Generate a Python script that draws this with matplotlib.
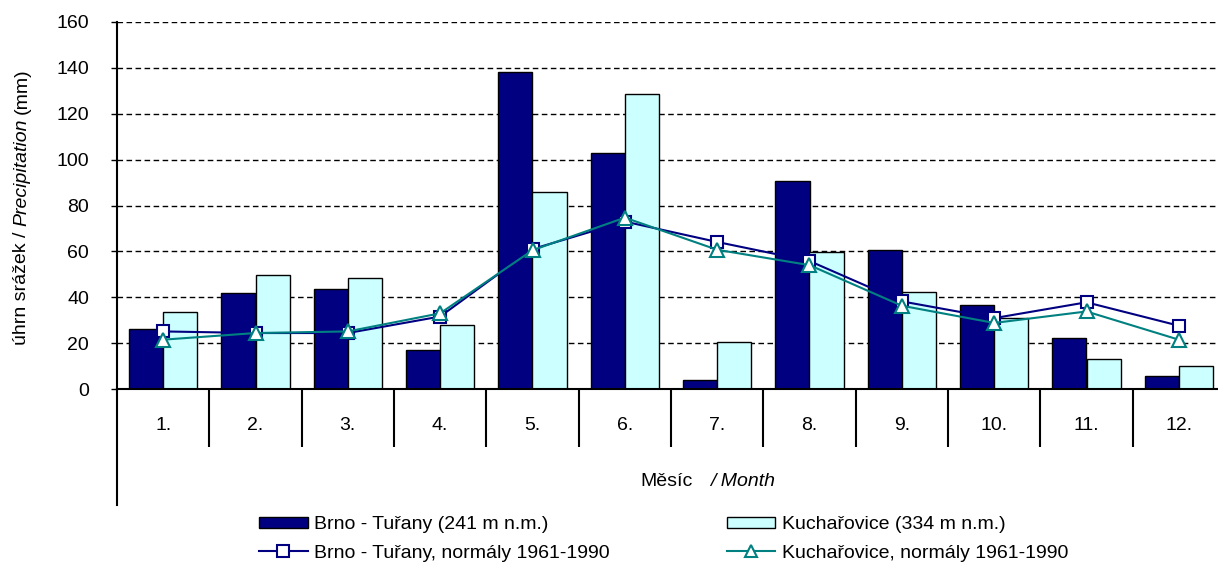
import numpy as np
import matplotlib
matplotlib.use("Agg")
import matplotlib.pyplot as plt
from matplotlib.patches import Patch
from matplotlib.lines import Line2D

plt.rcParams['font.family'] = ['Liberation Sans', 'DejaVu Sans']

# mesicni srazky (mm)
mesice = ['1.', '2.', '3.', '4.', '5.', '6.', '7.', '8.', '9.', '10.', '11.', '12.']
brno = [26.3, 41.8, 43.6, 17.1, 138.4, 103.1, 4.1, 90.8, 60.7, 36.7, 22.2, 5.8]
kuch = [33.7, 49.8, 48.4, 27.7, 85.9, 128.7, 20.5, 59.7, 42.5, 30.9, 13.1, 9.9]
brno_norm = [25.1, 24.4, 24.4, 31.6, 61.0, 73.0, 64.1, 55.8, 38.2, 30.9, 37.8, 27.6]
kuch_norm = [21.5, 24.4, 25.1, 33.0, 60.5, 74.7, 60.7, 54.0, 36.3, 28.8, 33.8, 21.5]

c_brno = '#000080'
c_kuch = '#CCFFFF'
c_kuch_line = '#008080'

W, H = 1218, 566
fig = plt.figure(figsize=(W / 100, H / 100), dpi=100)
ax = fig.add_axes([117 / W, 1 - 389 / H, (1225 - 117) / W, (389 - 22) / H])

x = np.arange(len(mesice))
sirka = 0.37
ax.bar(x - sirka / 2, brno, sirka, color=c_brno, edgecolor='black', lw=1, zorder=2)
ax.bar(x + sirka / 2, kuch, sirka, color=c_kuch, edgecolor='black', lw=1, zorder=2)
ax.plot(x, brno_norm, color=c_brno, lw=1.5, marker='s', ms=9, mfc='white',
        mec=c_brno, mew=1.5, zorder=3)
ax.plot(x, kuch_norm, color=c_kuch_line, lw=1.5, marker='^', ms=10, mfc='white',
        mec=c_kuch_line, mew=1.5, zorder=4)

ax.set_xlim(-0.5, 11.5)
ax.set_ylim(0, 160)
ax.set_yticks(np.arange(0, 161, 20))
ax.yaxis.grid(True, ls=(0, (4, 2.5)), color='black', lw=1)
ax.set_axisbelow(True)
ax.tick_params(axis='y', direction='out', length=4, width=1, pad=16, labelsize=14)

# hranice kategorii jako dlouhe ticky, popisky jako minor
ax.set_xticks(np.arange(0.5, 12, 1))
ax.set_xticklabels([])
ax.tick_params(axis='x', which='major', direction='out', length=42, width=1.5)
ax.set_xticks(x, minor=True)
ax.set_xticklabels(mesice, minor=True)
ax.tick_params(axis='x', which='minor', length=0, pad=20, labelsize=14)

for s in ['top', 'right']:
    ax.spines[s].set_visible(False)
ax.spines['left'].set_linewidth(1.5)
ax.spines['bottom'].set_linewidth(1.5)
ax.plot([0, 0], [0, -(505 - 389) / (389 - 22)], transform=ax.transAxes,
        color='black', lw=1.5, clip_on=False)

# popisek osy y
t1 = fig.text(22 / W, 1 - 345 / H, 'úhrn srážek /', rotation=90, ha='center',
              va='bottom', fontsize=14)
t2 = plt.annotate('Precipitation', xy=(0.5, 1), xycoords=t1, xytext=(0, 4),
                  textcoords='offset points', rotation=90, ha='center', va='bottom',
                  fontsize=14, style='italic')
plt.annotate('(mm)', xy=(0.5, 1), xycoords=t2, xytext=(0, 3),
             textcoords='offset points', rotation=90, ha='center', va='bottom',
             fontsize=14)

# popisek osy x
fig.text(640 / W, 1 - 481 / H, 'Měsíc', ha='left', va='center', fontsize=14)
fig.text(710 / W, 1 - 481 / H, '/ Month', ha='left', va='center', fontsize=14,
         style='italic')

handles = [
    Patch(facecolor=c_brno, edgecolor='black'),
    Line2D([], [], color=c_brno, lw=1.5, marker='s', ms=9, mfc='white', mec=c_brno, mew=1.5),
    Patch(facecolor=c_kuch, edgecolor='black'),
    Line2D([], [], color=c_kuch_line, lw=1.5, marker='^', ms=9, mfc='white',
           mec=c_kuch_line, mew=1.5),
]
labels = ['Brno - Tuřany (241 m n.m.)', 'Brno - Tuřany, normály 1961-1990',
          'Kuchařovice (334 m n.m.)', 'Kuchařovice, normály 1961-1990']
fig.legend(handles, labels, ncol=2, loc='upper left',
           bbox_to_anchor=(259 / W, 1 - 516 / H), frameon=False, fontsize=14,
           borderpad=0, borderaxespad=0, handlelength=2.5, handleheight=0.5,
           handletextpad=0.35, columnspacing=6.0, labelspacing=0.6)

fig.savefig('out.png', dpi=100)
